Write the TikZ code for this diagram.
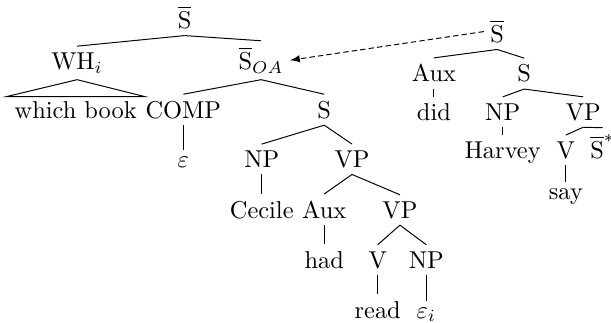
\documentclass[tikz,border=0pt]{standalone}
\usepackage{amsmath}
\usepackage{amssymb}
\usepackage{tikz}

\tikzset{cat/.style={anchor=base, inner sep=2.5pt}}

\begin{document}
\begin{tikzpicture}[scale=1.0]
  \useasboundingbox (0,0) rectangle (8.80,4.64);
  % main clause
  \node[cat] (sbar) at (2.66,4.23) {$\overline{\mbox{S}}$};
  \node[cat] (wh) at (1.11,3.64) {WH$_i$};
  \node[cat] (soa) at (3.76,3.64) {$\overline{\mbox{S}}_{OA}$};
  \node[cat, inner xsep=3.3pt, inner ysep=1.6pt] (wb) at (1.09,2.94) {which book};
  \node[cat] (comp) at (2.64,2.94) {COMP};
  \node[cat] (s1) at (4.67,2.94) {S};
  \node[cat] (eps) at (2.64,2.23) {$\varepsilon$};
  \node[cat] (np1) at (3.77,2.23) {NP};
  \node[cat] (vp1) at (5.07,2.23) {VP};
  \node[cat] (cecile) at (3.77,1.50) {Cecile};
  \node[cat] (aux1) at (4.67,1.50) {Aux};
  \node[cat] (vp2) at (5.76,1.50) {VP};
  \node[cat] (had) at (4.67,0.78) {had};
  \node[cat] (v1) at (5.44,0.78) {V};
  \node[cat] (np2) at (6.14,0.78) {NP};
  \node[cat] (read) at (5.44,0.06) {read};
  \node[cat] (epsi) at (6.14,0.06) {$\varepsilon_i$};
  \draw (sbar.south) -- (wh.north);
  \draw (sbar.south) -- (soa.north);
  \draw (wh.south) -- (wb.north west) -- (wb.north east) -- cycle;
  \draw (soa.south) -- (comp.north);
  \draw (soa.south) -- (s1.north);
  \draw (comp.south) -- (eps.north);
  \draw (s1.south) -- (np1.north);
  \draw (s1.south) -- (vp1.north);
  \draw (np1.south) -- (cecile.north);
  \draw (vp1.south) -- (aux1.north);
  \draw (vp1.south) -- (vp2.north);
  \draw (aux1.south) -- (had.north);
  \draw (vp2.south) -- (v1.north);
  \draw (vp2.south) -- (np2.north);
  \draw (v1.south) -- (read.north);
  \draw (np2.south) -- (epsi.north);
  % auxiliary tree
  \node[cat] (sbar2) at (7.16,4.03) {$\overline{\mbox{S}}$};
  \node[cat] (aux2) at (6.25,3.46) {Aux};
  \node[cat] (s2) at (7.55,3.46) {S};
  \node[cat] (did) at (6.25,2.91) {did};
  \node[cat] (np3) at (7.24,2.91) {NP};
  \node[cat] (vp3) at (8.40,2.91) {VP};
  \node[cat] (harvey) at (7.24,2.36) {Harvey};
  \node[cat] (v2) at (8.15,2.36) {V};
  \node[cat] (sstar) at (8.68,2.36) {$\overline{\mbox{S}}^*$};
  \node[cat] (say) at (8.15,1.77) {say};
  \draw (sbar2.south) -- (aux2.north);
  \draw (sbar2.south) -- (s2.north);
  \draw (aux2.south) -- (did.north);
  \draw (s2.south) -- (np3.north);
  \draw (s2.south) -- (vp3.north);
  \draw (np3.south) -- (harvey.north);
  \draw (vp3.south) -- (v2.north);
  \draw (vp3.south) -- (sstar.north);
  \draw (v2.south) -- (say.north);
  % adjunction
  \draw[dash pattern=on 2.2pt off 1.3pt, -latex] (sbar2.west) -- (soa.east);
\end{tikzpicture}
\end{document}
